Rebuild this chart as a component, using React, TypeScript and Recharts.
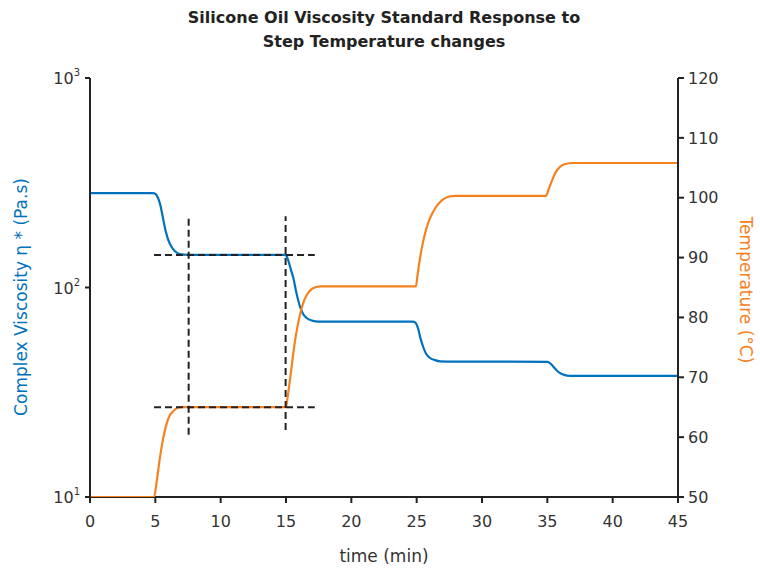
import React from "react";
import { ComposedChart, Line, XAxis, YAxis, ReferenceLine, Label } from "recharts";

const viscosityData = [
  { t: 0, v: 282 }, { t: 4.8, v: 282 }, { t: 5.0, v: 280 }, { t: 5.2, v: 268 }, { t: 5.4, v: 245 },
  { t: 5.6, v: 212 }, { t: 5.8, v: 185 }, { t: 6.0, v: 168 }, { t: 6.25, v: 156 }, { t: 6.5, v: 149 },
  { t: 6.8, v: 145 }, { t: 7.2, v: 143.5 }, { t: 8, v: 143 }, { t: 14.9, v: 143 }, { t: 15.05, v: 141 },
  { t: 15.2, v: 133 }, { t: 15.4, v: 120 }, { t: 15.55, v: 112 }, { t: 15.8, v: 94 }, { t: 16.07, v: 81 },
  { t: 16.3, v: 75 }, { t: 16.58, v: 71.5 }, { t: 17.0, v: 69.5 }, { t: 17.5, v: 68.8 }, { t: 24.7, v: 68.7 },
  { t: 24.9, v: 68 }, { t: 25.1, v: 64 }, { t: 25.3, v: 57 }, { t: 25.5, v: 52 }, { t: 25.7, v: 48.5 },
  { t: 26.0, v: 46.2 }, { t: 26.4, v: 45 }, { t: 26.8, v: 44.4 }, { t: 28, v: 44.3 }, { t: 35.0, v: 44.2 },
  { t: 35.2, v: 43.6 }, { t: 35.45, v: 42 }, { t: 35.7, v: 40.3 }, { t: 35.95, v: 39.1 }, { t: 36.2, v: 38.4 },
  { t: 36.5, v: 38.0 }, { t: 37, v: 37.9 }, { t: 45, v: 37.9 },
];

const temperatureData = [
  { t: 0, c: 50 }, { t: 4.9, c: 50 }, { t: 5.1, c: 52.5 }, { t: 5.36, c: 56.7 }, { t: 5.6, c: 59.8 },
  { t: 5.87, c: 62.3 }, { t: 6.1, c: 63.6 }, { t: 6.4, c: 64.4 }, { t: 6.9, c: 65 }, { t: 15.0, c: 65 },
  { t: 15.1, c: 66.3 }, { t: 15.3, c: 69.5 }, { t: 15.5, c: 73 }, { t: 15.7, c: 76.2 }, { t: 16.0, c: 79.8 },
  { t: 16.3, c: 82.3 }, { t: 16.6, c: 83.8 }, { t: 17.0, c: 84.8 }, { t: 17.6, c: 85.2 }, { t: 24.95, c: 85.2 },
  { t: 25.05, c: 86.8 }, { t: 25.25, c: 89.8 }, { t: 25.45, c: 92.2 }, { t: 25.65, c: 94.1 }, { t: 25.9, c: 95.9 },
  { t: 26.2, c: 97.4 }, { t: 26.6, c: 98.8 }, { t: 27.0, c: 99.7 }, { t: 27.5, c: 100.2 }, { t: 28.0, c: 100.3 },
  { t: 34.9, c: 100.3 },
  { t: 35.1, c: 101.4 }, { t: 35.35, c: 102.8 }, { t: 35.6, c: 104.1 }, { t: 35.9, c: 105 }, { t: 36.3, c: 105.6 },
  { t: 37.0, c: 105.8 }, { t: 45, c: 105.8 },
];

const timeTicks = [0, 5, 10, 15, 20, 25, 30, 35, 40, 45];
const viscosityTicks = [10, 100, 1000];
const temperatureTicks = [50, 60, 70, 80, 90, 100, 110, 120];

// dashed guide segments
const guideH = [
  { axis: "left", x1: 4.9, x2: 17.2, y: 143 },
  { axis: "right", x1: 4.9, x2: 17.2, y: 65 },
];
const guideV = [
  { x: 7.55, y1: 60.4, y2: 96.9 },
  { x: 14.97, y1: 61.2, y2: 96.9 },
];

const BLUE = "#0072BD";
const ORANGE = "#F5821F";
const FONT = "'DejaVu Sans', sans-serif";
const TEXT = "#333";

const LogTick = (props: any) => {
  const { x, y, payload } = props;
  const exp = Math.round(Math.log10(payload.value));
  return (
    <text x={x - 3} y={y + 6} textAnchor="end" fontSize={16} fill={TEXT} fontFamily={FONT}>
      <tspan>10</tspan>
      <tspan dy={-8} fontSize={10}>{exp}</tspan>
    </text>
  );
};

const LeftLabel = () => (
  <text
    x={21}
    y={297}
    transform="rotate(-90 21 297)"
    textAnchor="middle"
    dominantBaseline="central"
    fontSize={17}
    fill={BLUE}
    fontFamily={FONT}
  >
    Complex Viscosity η * (Pa.s)
  </text>
);

const RightLabel = () => (
  <text
    x={746}
    y={290}
    transform="rotate(90 746 290)"
    textAnchor="middle"
    dominantBaseline="central"
    fontSize={17}
    fill={ORANGE}
    fontFamily={FONT}
  >
    Temperature (°C)
  </text>
);

export default function App() {
  return (
    <div style={{ position: "fixed", left: 0, top: 0, width: 760, height: 570, background: "#fff" }}>
      <div
        style={{
          position: "absolute", left: 84, width: 600, top: 6, textAlign: "center",
          fontFamily: FONT, fontWeight: 700, fontSize: 16, lineHeight: "24px", color: "#222",
        }}
      >
        Silicone Oil Viscosity Standard Response to
        <br />
        Step Temperature changes
      </div>
      <ComposedChart width={760} height={570} margin={{ top: 78, right: 0, bottom: 0, left: 0 }}>
        <XAxis
          dataKey="t"
          type="number"
          domain={[0, 45]}
          ticks={timeTicks}
          allowDuplicatedCategory={false}
          height={73}
          axisLine={false}
          tickLine={{ stroke: "#222", strokeWidth: 2 }}
          tickSize={6}
          tick={{ fontSize: 16, fill: TEXT, fontFamily: FONT, dy: 11 }}
        >
          <Label value="time (min)" position="insideBottom" offset={8} style={{ fontSize: 17, fill: TEXT, fontFamily: FONT }} />
        </XAxis>
        <YAxis
          yAxisId="left"
          scale="log"
          domain={[10, 1000]}
          ticks={viscosityTicks}
          allowDataOverflow
          width={90}
          stroke="#222"
          strokeWidth={2}
          tickSize={5}
          tick={<LogTick />}
        >
          <Label content={<LeftLabel />} />
        </YAxis>
        <YAxis
          yAxisId="right"
          orientation="right"
          domain={[50, 120]}
          ticks={temperatureTicks}
          allowDataOverflow
          width={82}
          stroke="#222"
          strokeWidth={2}
          tickSize={6}
          tick={{ fontSize: 16, fill: TEXT, fontFamily: FONT, dx: 2 }}
        >
          <Label content={<RightLabel />} />
        </YAxis>
        <ReferenceLine yAxisId="right" y={50} stroke="#222" strokeWidth={2} ifOverflow="visible" />
        <Line
          yAxisId="left"
          data={viscosityData}
          dataKey="v"
          type="monotone"
          stroke={BLUE}
          strokeWidth={2.2}
          dot={false}
          isAnimationActive={false}
        />
        <Line
          yAxisId="right"
          data={temperatureData}
          dataKey="c"
          type="monotone"
          stroke={ORANGE}
          strokeWidth={2.2}
          dot={false}
          isAnimationActive={false}
        />
        {guideH.map((g, i) => (
          <ReferenceLine
            key={"h" + i}
            yAxisId={g.axis}
            segment={[{ x: g.x1, y: g.y }, { x: g.x2, y: g.y }]}
            stroke="#222"
            strokeWidth={2}
            strokeDasharray="7 4"
            ifOverflow="visible"
          />
        ))}
        {guideV.map((g, i) => (
          <ReferenceLine
            key={"v" + i}
            yAxisId="right"
            segment={[{ x: g.x, y: g.y1 }, { x: g.x, y: g.y2 }]}
            stroke="#222"
            strokeWidth={2}
            strokeDasharray="7 4"
            ifOverflow="visible"
          />
        ))}
      </ComposedChart>
    </div>
  );
}
